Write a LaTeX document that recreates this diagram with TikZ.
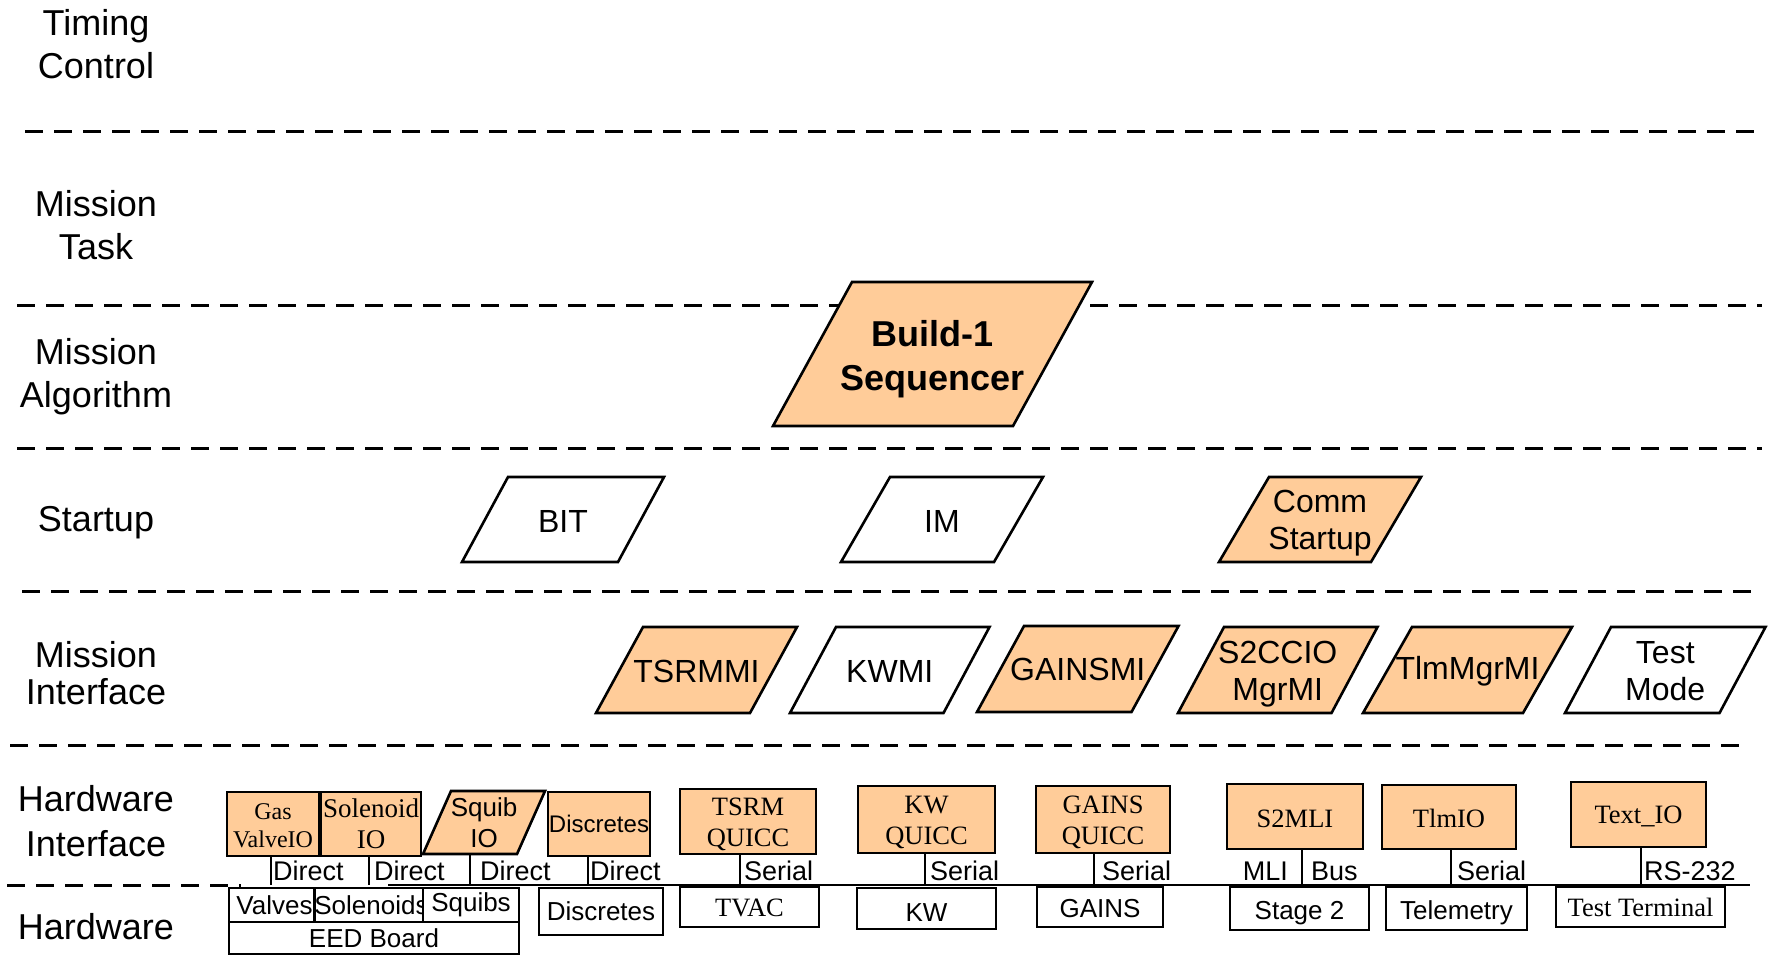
\documentclass[tikz,border=0pt]{standalone}
\usepackage{fontspec}
\setmainfont{Liberation Sans}
\newfontfamily\tnr{Liberation Serif}
\definecolor{peach}{RGB}{255,204,153}
\newcommand\lowr[2]{\raisebox{-#1pt}[\height][\depth]{#2}}
\tikzset{
 layer/.style={font=\fontsize{36}{43}\selectfont, align=center, inner sep=0},
 sep/.style={line width=3pt, dash pattern=on 18pt off 11pt},
 pg/.style={draw=black, line width=2.6pt, line join=miter},
 ptxt/.style={font=\fontsize{32}{37}\selectfont, align=center, inner sep=0},
 hwi/.style={draw=black, line width=2.6pt, fill=peach, inner sep=0, align=center, font=\tnr\fontsize{26.5}{31}\selectfont},
 hw/.style={draw=black, line width=2.6pt, fill=white, inner sep=0, align=center, font=\fontsize{26}{31}\selectfont},
 hwt/.style={hw, font=\tnr\fontsize{26.5}{31}\selectfont},
 bus/.style={line width=2.6pt},
 lbl/.style={font=\fontsize{27}{32}\selectfont, inner sep=0},
}
% #1 extra node options, #2 name, #3 cx, #4 cy, #5 width, #6 height, #7 slant, #8 fill, #9 text
\newcommand\pgram[9][]{%
  \filldraw[pg, fill=#8] ({#3-#5/2+#7},{#4-#6/2}) -- ({#3+#5/2+#7},{#4-#6/2}) -- ({#3+#5/2-#7},{#4+#6/2}) -- ({#3-#5/2-#7},{#4+#6/2}) -- cycle;
  \coordinate (#2-s) at ({#3-#7},{#4+#6/2});
  \node[ptxt,#1] (#2) at (#3,#4) {#9};}
\begin{document}
\begin{tikzpicture}[x=1pt,y=-1pt]
\useasboundingbox (0,0) rectangle (1769,956);
% layer separators
\draw[sep] (25,131) -- (1762,131);
\draw[sep] (17,305) -- (1762,305);
\draw[sep] (17,448) -- (1762,448);
\draw[sep] (22,591) -- (1762,591);
\draw[sep] (10,745) -- (1750,745);
\draw[sep] (7,885) -- (241,885);
% layer labels
\node[layer] (lTC) at (96,44) {Timing\\Control};
\node[layer] (lMT) at (96,225) {Mission\\Task};
\node[layer, yshift=-4pt] (lMA) at (96,373) {Mission\\Algorithm};
\node[layer, yshift=-4pt] (lSU) at (96,519) {Startup};
\node[layer, font=\fontsize{36}{37}\selectfont] (lMI) at (96,673) {Mission\\Interface};
\node[layer, font=\fontsize{36}{45}\selectfont] (lHI) at (96,821) {Hardware\\Interface};
\node[layer] (lHW) at (96,927) {Hardware};
% mission algorithm
\pgram[font=\bfseries\fontsize{36}{44}\selectfont, yshift=-5pt]{build}{932.5}{354}{240}{144}{39.5}{peach}{Build-1\\Sequencer}
% startup
\pgram[yshift=-2pt]{bit}{563}{519.5}{156}{85}{23}{white}{BIT}
\pgram[yshift=-2pt]{im}{942}{519.5}{153}{85}{24.5}{white}{IM}
\pgram[yshift=-4pt]{comm}{1320}{519.5}{152}{85}{25}{peach}{Comm\\Startup}
% mission interface
\pgram[yshift=-1pt]{tsrmmi}{696.5}{670}{154}{86}{23.5}{peach}{TSRMMI}
\pgram[yshift=-1pt]{kwmi}{889.75}{670}{153.5}{86}{23}{white}{KWMI}
\pgram{gainsmi}{1077.75}{669}{154.5}{86}{23.5}{peach}{GAINSMI}
\pgram[yshift=-4pt]{s2ccio}{1277.75}{670}{153.5}{86}{23}{peach}{S2CCIO\\MgrMI}
\pgram[yshift=-1pt]{tlmmgr}{1467.5}{670}{160}{86}{24.5}{peach}{TlmMgrMI}
\pgram[yshift=-1pt]{testmode}{1665.25}{670}{154.5}{86}{23}{white}{Test\\Mode}
% bus
\coordinate (busL) at (388,885);
\coordinate (busR) at (1750,885);
\draw[bus] (busL) -- (busR);
% hardware interface
\node[hwi, minimum width=92, minimum height=64, font=\tnr\fontsize{24}{28}\selectfont] (gas) at (273,824) {\lowr{2}{Gas}\\\lowr{2}{ValveIO}};
\node[hwi, minimum width=100, minimum height=64, font=\tnr\fontsize{27}{31}\selectfont] (sol) at (371,824) {Solenoid\\IO};
\pgram[font=\fontsize{26}{31}\selectfont]{squib}{484}{822.5}{94}{63}{14}{peach}{Squib\\IO}
\node[hwi, minimum width=102, minimum height=64, font=\fontsize{24}{28}\selectfont] (disc) at (599,824) {Discretes};
\node[hwi, minimum width=136, minimum height=65] (tsrm) at (748,821.5) {\lowr{3}{TSRM}\\\lowr{3}{QUICC}};
\node[hwi, minimum width=137, minimum height=67] (kw) at (926.5,819.5) {\lowr{3}{KW}\\\lowr{3}{QUICC}};
\node[hwi, minimum width=134, minimum height=67] (gains) at (1103,819.5) {\lowr{3}{GAINS}\\\lowr{3}{QUICC}};
\node[hwi, minimum width=136, minimum height=65] (s2mli) at (1295,816.5) {\lowr{2}{S2MLI}};
\node[hwi, minimum width=134, minimum height=64] (tlmio) at (1449,817) {\lowr{1}{TlmIO}};
\node[hwi, minimum width=135, minimum height=65] (textio) at (1638.5,814.5) {\lowr{2}{Text\_IO}};
% hardware
\node[hw, minimum width=91, minimum height=34] (valves) at (274.5,905) {Valves};
\node[hw, minimum width=103, minimum height=34] (solenoids) at (371.5,905) {Solenoids};
\node[hw, minimum width=96, minimum height=34] (squibs) at (471,905) {Squibs};
\node[hw, minimum width=290, minimum height=32] (eed) at (374,938) {EED Board};
\node[hw, minimum width=124, minimum height=47] (hdisc) at (601,911.5) {Discretes};
\node[hwt, minimum width=139, minimum height=40] (tvac) at (749.5,907) {\lowr{1}{TVAC}};
\node[hw, minimum width=139, minimum height=41] (hkw) at (926.5,908.5) {\lowr{4}{KW}};
\node[hw, minimum width=126, minimum height=40] (hgains) at (1100,907) {\lowr{2}{GAINS}};
\node[hw, minimum width=139, minimum height=43] (stage) at (1299.5,908.5) {\lowr{5}{Stage 2}};
\node[hw, minimum width=141, minimum height=43] (telem) at (1456.5,908.5) {\lowr{4}{Telemetry}};
\node[hwt, minimum width=169, minimum height=40] (testterm) at (1640.5,907) {Test Terminal};
% connection feet on the bus
\coordinate (fgas) at (271,885);
\coordinate (fsol) at (369,885);
\coordinate (fsquib) at (470,885);
\coordinate (fdisc) at (588,885);
\coordinate (ftsrm) at (740,885);
\coordinate (fkw) at (925,885);
\coordinate (fgains) at (1094,885);
\coordinate (fs2) at (1302,885);
\coordinate (ftlm) at (1451,885);
\coordinate (ftext) at (1641,885);
% connectors
\draw[bus] (fgas |- gas.south) -- (fgas);
\draw[bus] (fsol |- sol.south) -- (fsol);
\draw[bus] (squib-s) -- (fsquib);
\draw[bus] (fdisc |- disc.south) -- (fdisc);
\draw[bus] (ftsrm |- tsrm.south) -- (ftsrm);
\draw[bus] (fkw |- kw.south) -- (fkw);
\draw[bus] (fgains |- gains.south) -- (fgains);
\draw[bus] (fs2 |- s2mli.south) -- (fs2);
\draw[bus] (ftlm |- tlmio.south) -- (ftlm);
\draw[bus] (ftext |- textio.south) -- (ftext);
% connector labels
\node[lbl, anchor=base west, xshift=2pt, yshift=5pt] (lgas) at (fgas) {Direct};
\node[lbl, anchor=base west, xshift=5pt, yshift=5pt] (lsol) at (fsol) {Direct};
\node[lbl, anchor=base west, xshift=10pt, yshift=5pt] (lsquib) at (fsquib) {Direct};
\node[lbl, anchor=base west, xshift=2pt, yshift=5pt] (ldisc) at (fdisc) {Direct};
\node[lbl, anchor=base west, xshift=4pt, yshift=5pt] (ltsrm) at (ftsrm) {Serial};
\node[lbl, anchor=base west, xshift=5pt, yshift=5pt] (lkw) at (fkw) {Serial};
\node[lbl, anchor=base west, xshift=8pt, yshift=5pt] (lgains) at (fgains) {Serial};
\node[lbl, anchor=base east, xshift=-14pt, yshift=5pt] (lmli) at (fs2) {MLI};
\node[lbl, anchor=base west, xshift=9pt, yshift=5pt] (lbus) at (fs2) {Bus};
\node[lbl, anchor=base west, xshift=6pt, yshift=5pt] (ltlm) at (ftlm) {Serial};
\node[lbl, anchor=base west, xshift=3pt, yshift=5pt] (ltext) at (ftext) {RS-232};
\end{tikzpicture}
\end{document}
